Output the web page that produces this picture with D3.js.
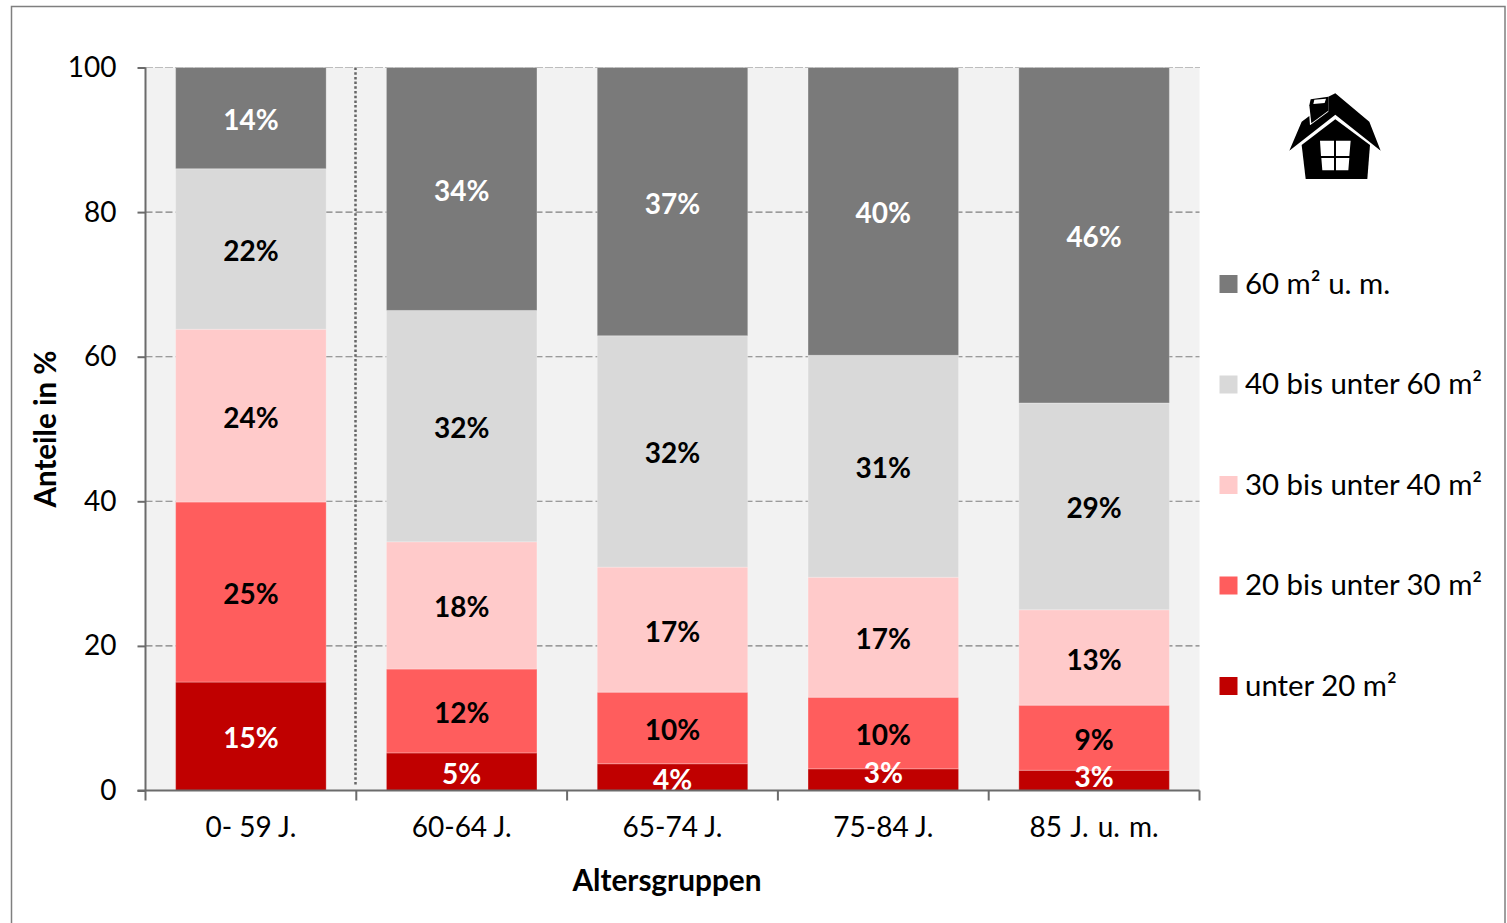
<!DOCTYPE html>
<html>
<head>
<meta charset="utf-8">
<script src="https://cdn.jsdelivr.net/npm/d3@7"></script>
<style>
  html, body { margin: 0; padding: 0; background: #fff; overflow: hidden; }
  text { font-family: Lato, Carlito, sans-serif; fill: #000; }
</style>
</head>
<body>
<svg id="chart" width="1507" height="923"></svg>
<script>
var categories = ["0- 59 J.", "60-64 J.", "65-74 J.", "75-84 J.", "85 J. u. m."];
var seriesNames = ["unter 20 m²", "20 bis unter 30 m²", "30 bis unter 40 m²", "40 bis unter 60 m²", "60 m² u. m."];
var under20 = [15, 5.2, 3.7, 3, 2.8];
var from20to30 = [24.9, 11.6, 9.9, 9.9, 9];
var from30to40 = [23.9, 17.6, 17.3, 16.6, 13.2];
var from40to60 = [22.2, 32, 32, 30.7, 28.6];
var over60 = [14, 33.6, 37.1, 39.8, 46.4];
var yTicks = [0, 20, 40, 60, 80, 100];

var seriesValues = [under20, from20to30, from30to40, from40to60, over60];
var colors = ["#c00000", "#ff5d5d", "#ffcaca", "#d9d9d9", "#7a7a7a"];
var labelColors = ["#fff", "#000", "#000", "#000", "#fff"];

var svg = d3.select("#chart");

// outer frame of the chart
svg.append("rect")
	.attr("x", 11.5).attr("y", 6.5)
	.attr("width", 1493.5).attr("height", 930)
	.attr("fill", "#fff")
	.attr("stroke", "#7f7f7f")
	.attr("stroke-width", 1.5);

var left = 145.5, right = 1199.5, top_ = 67.5, bottom = 790.5;

var x = d3.scaleBand().domain(categories).range([left, right]).paddingInner(0.286).paddingOuter(0.143);
var y = d3.scaleLinear().domain([0, 100]).range([bottom, top_]);
var step = x.step();

svg.append("rect")
	.attr("x", left).attr("y", top_)
	.attr("width", right - left).attr("height", bottom - top_)
	.attr("fill", "#f2f2f2");

// gridlines
svg.append("g").selectAll("line")
	.data(yTicks.filter(function(d) { return d > 0; }))
	.enter().append("line")
		.attr("x1", left).attr("x2", right)
		.attr("y1", function(d) { return y(d); })
		.attr("y2", function(d) { return y(d); })
		.attr("stroke", "#7f7f7f")
		.attr("stroke-width", 1.1)
		.attr("stroke-dasharray", "7 3");

// dotted separator after the first group
svg.append("line")
	.attr("x1", 355.5).attr("x2", 355.5)
	.attr("y1", top_).attr("y2", bottom - 5)
	.attr("stroke", "#666")
	.attr("stroke-width", 2.5)
	.attr("stroke-dasharray", "2.5 2.2");

// bars
var stacks = d3.stack().keys(d3.range(5)).value(function(row, k) { return row[k]; })(
	categories.map(function(c, i) { return seriesValues.map(function(s) { return s[i]; }); })
);

var layers = svg.append("g").selectAll("g")
	.data(stacks)
	.enter().append("g")
		.attr("fill", function(d, i) { return colors[i]; });

layers.selectAll("rect")
	.data(function(d) { return d; })
	.enter().append("rect")
		.attr("x", function(d, i) { return x(categories[i]); })
		.attr("width", x.bandwidth())
		.attr("y", function(d) { return y(d[1]); })
		.attr("height", function(d) { return y(d[0]) - y(d[1]); })
		.attr("stroke", "#fff")
		.attr("stroke-opacity", 0.25)
		.attr("stroke-width", 1);

// the top gridline shows faintly along the bar tops
svg.append("line")
	.attr("x1", left).attr("x2", right)
	.attr("y1", y(100)).attr("y2", y(100))
	.attr("stroke", "#bdbdbd")
	.attr("stroke-width", 1)
	.attr("stroke-dasharray", "7 3");

// small segments: the label sits above the middle of the bar piece
function labelNudge(s, i) {
	if(s == 0 && i == 1) return 2;
	if(s == 0 && i == 2) return 2.5;
	if(s == 0 && i == 3) return -7;
	if(s == 0 && i == 4) return -3.5;
	return 2;
}

// labels go in their own group so no later bar piece covers them
var labels = svg.append("g");
stacks.forEach(function(layer, s) {
	labels.append("g").selectAll("text")
		.data(layer)
		.enter().append("text")
			.attr("x", function(d, i) { return x(categories[i]) + x.bandwidth() / 2; })
			.attr("y", function(d, i) { return (y(d[0]) + y(d[1])) / 2 + labelNudge(s, i); })
			.attr("dy", "0.36em")
			.attr("text-anchor", "middle")
			.attr("font-size", 28)
			.attr("font-weight", 700)
			.style("fill", labelColors[s])
			.text(function(d) { return Math.round(d[1] - d[0]) + "%"; });
});

// axes
var yAxis = svg.append("g")
	.attr("transform", "translate(" + left + ",0)")
	.call(d3.axisLeft(y).tickValues(yTicks).tickSize(8).tickPadding(21));
var xAxis = svg.append("g")
	.attr("transform", "translate(0," + bottom + ")")
	.call(d3.axisBottom(x).tickSize(0).tickPadding(27));

xAxis.selectAll(".tick").append("line")
	.attr("x1", step / 2).attr("x2", step / 2)
	.attr("y1", 0).attr("y2", 10);
xAxis.append("line")
	.attr("x1", left).attr("x2", left)
	.attr("y1", 0).attr("y2", 10);

[yAxis, xAxis].forEach(function(a) {
	a.selectAll(".domain, line").attr("stroke", "#6b6b6b").attr("stroke-width", 2);
	a.selectAll("text")
		.attr("font-family", null)
		.attr("font-size", 28);
});
// last label runs wider in the original
xAxis.selectAll("text").filter(function(d, i) { return i == 4; }).attr("word-spacing", 2);
yAxis.select(".domain").attr("d", "M0," + top_ + "V" + bottom);
xAxis.select(".domain").attr("d", "M" + (left - 8) + ",0H" + right);

// axis titles
svg.append("text")
	.attr("x", 667).attr("y", 891)
	.attr("text-anchor", "middle")
	.attr("font-size", 29.8).attr("font-weight", 700)
	.text("Altersgruppen");
svg.append("text")
	.attr("transform", "translate(55.5,429) rotate(-90)")
	.attr("text-anchor", "middle")
	.attr("font-size", 29.6).attr("font-weight", 700)
	.text("Anteile in %");

// legend, top entry is the top stack
var legendY = d3.scalePoint().domain(d3.range(5)).range([686, 284]);
var legend = svg.append("g").selectAll("g")
	.data(seriesNames)
	.enter().append("g")
		.attr("transform", function(d, i) { return "translate(1219.5," + legendY(i) + ")"; });
legend.append("rect")
	.attr("x", 0).attr("y", -9)
	.attr("width", 18).attr("height", 18)
	.attr("fill", function(d, i) { return colors[i]; });
legend.append("text")
	.attr("x", 25.5).attr("dy", "0.33em")
	.attr("font-size", 29.4)
	.text(function(d) { return d; });

// house icon
var house = svg.append("g").attr("transform", "translate(1260,80) scale(0.3333)");
house.append("path")
	.attr("fill", "#000")
	.attr("d", "M88,212 L125,125 L148,108 L150,136 L205,95 L205,50 L226,40 L328,125 L362,212 L226,104 Z");
house.append("path")
	.attr("fill", "#000")
	.attr("d", "M125,195 L226,118 L330,195 L322,297 L137,297 Z");
house.append("path")
	.attr("fill", "#000")
	.attr("d", "M152,58 L205,50 L205,92 L154,130 L148,76 Z");
house.append("path")
	.attr("fill", "#fff")
	.attr("d", "M163,59 L198,56 L194,69 L160,72 Z");
house.append("path")
	.attr("fill", "#fff")
	.attr("d", "M180,182 L222,182 L222,228 L183,228 Z M228,182 L272,182 L268,228 L228,228 Z M184,234 L222,234 L222,271 L187,271 Z M228,234 L268,234 L265,271 L228,271 Z");
</script>
</body>
</html>
